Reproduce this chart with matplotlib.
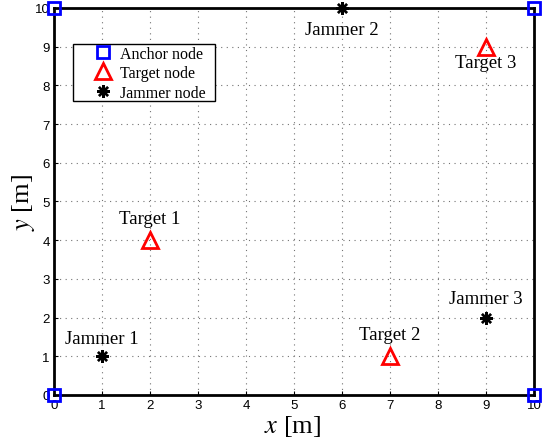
import matplotlib.pyplot as plt
from matplotlib.lines import Line2D
from matplotlib.patches import Rectangle

# Positions of the nodes
anchor_x = [0, 10, 0, 10]
anchor_y = [0, 0, 10, 10]
target_x = [2, 7, 9]
target_y = [4, 1, 9]
jammer_x = [1, 6, 9]
jammer_y = [1, 10, 2]

target_names = ['Target 1', 'Target 2', 'Target 3']
jammer_names = ['Jammer 1', 'Jammer 2', 'Jammer 3']
legend_names = ['Anchor node', 'Target node', 'Jammer node']
# label offsets relative to the marker
target_dy = [0.55, 0.55, -0.4]
jammer_dy = [0.45, -0.55, 0.5]

serif = ['Liberation Serif', 'DejaVu Serif']
sans = ['Liberation Sans', 'DejaVu Sans']
plt.rcParams['mathtext.fontset'] = 'stix'

fig = plt.figure(figsize=(5.58, 4.39), dpi=100)
ax = fig.add_axes([0.0968, 0.098, 0.8602, 0.8815])

sq = dict(marker='s', ls='none', mfc='none', mec='blue', mew=2, ms=9)
tri = dict(marker='^', ls='none', mfc='none', mec='red', mew=2, ms=11)
ast = dict(marker=(8, 2, 0), ls='none', mec='black', mew=1.7, ms=9)

ax.plot(anchor_x, anchor_y, clip_on=False, zorder=5, **sq)
ax.plot(target_x, target_y, clip_on=False, zorder=5, **tri)
ax.plot(jammer_x, jammer_y, clip_on=False, zorder=5, **ast)

for x, y, name, dy in zip(target_x, target_y, target_names, target_dy):
    ax.text(x, y + dy, name, ha='center', va='center', fontsize=13.5,
            family=serif)
for x, y, name, dy in zip(jammer_x, jammer_y, jammer_names, jammer_dy):
    ax.text(x, y + dy, name, ha='center', va='center', fontsize=13.5,
            family=serif)

ax.set_xlim(0, 10)
ax.set_ylim(0, 10)
ax.set_xticks(range(11))
ax.set_yticks(range(11))
ax.grid(True, ls=(0, (1, 4)), color='0.45', lw=0.8)
ax.tick_params(direction='in', labelsize=9.5, length=3, pad=3)
for lab in ax.get_xticklabels() + ax.get_yticklabels():
    lab.set_family(sans)
for s in ax.spines.values():
    s.set_linewidth(2)

ax.set_xlabel(r'$x$ [m]', fontsize=19, family=serif, va='center')
ax.set_ylabel(r'$y$ [m]', fontsize=19, family=serif, va='center')
ax.xaxis.set_label_coords(0.496, -0.08)
ax.yaxis.set_label_coords(-0.064, 0.5)

# legend box drawn separately so the markers can sit inset like MATLAB
ax.add_patch(Rectangle((0.04, 0.76), 0.295, 0.147, transform=ax.transAxes,
                       facecolor='white', edgecolor='black', lw=1, zorder=6))
handles = [Line2D([], [], **sq), Line2D([], [], **tri),
           Line2D([], [], **dict(ast, ms=9))]
leg = ax.legend(handles, legend_names, loc='upper left',
                bbox_to_anchor=(0.075, 0.903), frameon=False,
                prop={'family': serif, 'size': 11.5}, handlelength=1.6,
                borderpad=0, labelspacing=0.22, handletextpad=0.3,
                borderaxespad=0)
leg.set_zorder(7)

fig.savefig('out.png', dpi=100)
